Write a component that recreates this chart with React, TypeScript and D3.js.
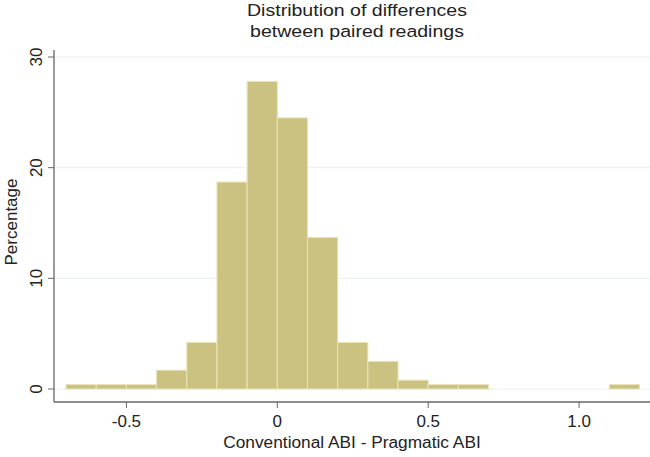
import React from 'react';
import * as d3 from 'd3';

// bin edges (lower bound) and percentage per bin, width 0.1
const binStarts = [-0.7, -0.6, -0.5, -0.4, -0.3, -0.2, -0.1, 0, 0.1, 0.2, 0.3, 0.4, 0.5, 0.6, 0.7, 0.8, 0.9, 1.0, 1.1];
const percents = [0.4, 0.4, 0.4, 1.7, 4.2, 18.7, 27.8, 24.5, 13.7, 4.2, 2.5, 0.8, 0.4, 0.4, 0, 0, 0, 0, 0.4];
const xTicks = [-0.5, 0, 0.5, 1.0];
const xTickLabels = ['-0.5', '0', '0.5', '1.0'];
const yTicks = [0, 10, 20, 30];
const titleLines = ['Distribution of differences', 'between paired readings'];

const width = 650;
const height = 457;
const font = 'Liberation Sans, Arial, sans-serif';

const App = () => {
  const x = d3.scaleLinear().domain([-0.74, 1.235]).range([54, 650]);
  const y = d3.scaleLinear().domain([0, 30]).range([389, 57]);
  const binW = 0.1;

  return (
    <svg width={width} height={height} style={{ display: 'block', position: 'absolute', left: 0, top: 0 }}>
      <rect width={width} height={height} fill="#fff" />
      {/* gridlines */}
      {yTicks.map(t => (
        <line key={t} x1={54} x2={650} y1={y(t)} y2={y(t)} stroke="#e8eff1" strokeWidth={1} />
      ))}
      {/* bars */}
      {binStarts.map((b, i) => percents[i] > 0 && (
        <rect
          key={i}
          x={x(b)}
          y={y(percents[i])}
          width={x(b + binW) - x(b)}
          height={y(0) - y(percents[i])}
          fill="#cbc282"
          stroke="#e9e4b8"
          strokeWidth={1}
        />
      ))}
      {/* axes */}
      <line x1={54} x2={54} y1={50} y2={402} stroke="#666" strokeWidth={1.3} />
      <line x1={54} x2={650} y1={402} y2={402} stroke="#666" strokeWidth={1.3} />
      {yTicks.map(t => (
        <g key={t}>
          <line x1={48} x2={54} y1={y(t)} y2={y(t)} stroke="#666" />
          <text
            transform={`translate(42,${y(t)}) rotate(-90)`}
            textAnchor="middle"
            fontFamily={font}
            fontSize={17}
            fill="#222"
          >{t}</text>
        </g>
      ))}
      {xTicks.map((t, i) => (
        <g key={t}>
          <line x1={x(t)} x2={x(t)} y1={402} y2={408} stroke="#666" />
          <text x={x(t)} y={427} textAnchor="middle" fontFamily={font} fontSize={17} fill="#222">
            {xTickLabels[i]}
          </text>
        </g>
      ))}
      {/* axis titles */}
      <text
        transform="translate(17,222) rotate(-90)"
        textAnchor="middle"
        fontFamily={font}
        fontSize={17}
        fill="#222"
      >Percentage</text>
      <text x={352} y={448} textAnchor="middle" fontFamily={font} fontSize={17.3} fill="#222">
        Conventional ABI - Pragmatic ABI
      </text>
      {/* title, slightly widened like the reference */}
      {titleLines.map((l, i) => (
        <text
          key={i}
          transform={`translate(357,${16 + i * 21}) scale(1.15,1)`}
          textAnchor="middle"
          fontFamily={font}
          fontSize={17}
          fill="#222"
        >
          {l}
        </text>
      ))}
    </svg>
  );
};

export default App;
